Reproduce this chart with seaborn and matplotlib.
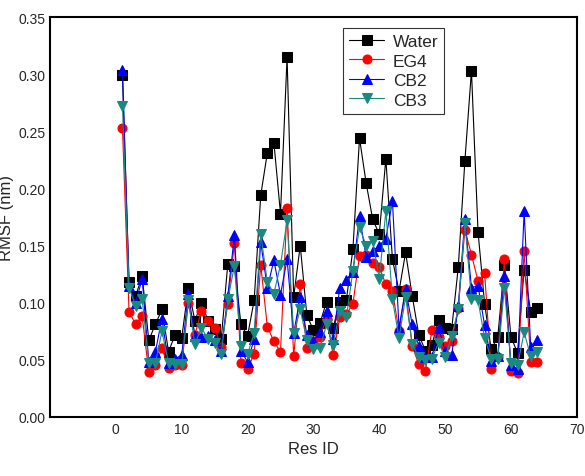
import numpy as np
import pandas as pd
import matplotlib
matplotlib.use("Agg")
import matplotlib.pyplot as plt
import seaborn as sns

res_id = list(range(1, 65))
water = [0.299, 0.118, 0.106, 0.123, 0.067, 0.081, 0.094, 0.057, 0.072, 0.069,
         0.113, 0.084, 0.100, 0.084, 0.077, 0.068, 0.134, 0.132, 0.081, 0.071,
         0.102, 0.194, 0.231, 0.240, 0.178, 0.315, 0.105, 0.150, 0.089, 0.076,
         0.082, 0.101, 0.078, 0.101, 0.102, 0.147, 0.244, 0.205, 0.173, 0.160,
         0.226, 0.138, 0.110, 0.144, 0.106, 0.072, 0.058, 0.063, 0.085, 0.078,
         0.077, 0.131, 0.224, 0.303, 0.162, 0.099, 0.059, 0.070, 0.133, 0.070,
         0.056, 0.129, 0.092, 0.095]
eg4 = [0.253, 0.092, 0.081, 0.088, 0.039, 0.045, 0.060, 0.043, 0.045, 0.045,
       0.100, 0.072, 0.093, 0.084, 0.078, 0.061, 0.099, 0.152, 0.047, 0.042,
       0.055, 0.133, 0.079, 0.066, 0.057, 0.183, 0.053, 0.116, 0.060, 0.066,
       0.070, 0.086, 0.054, 0.087, 0.090, 0.099, 0.141, 0.142, 0.135, 0.131,
       0.116, 0.110, 0.075, 0.112, 0.062, 0.046, 0.040, 0.076, 0.070, 0.062,
       0.066, 0.095, 0.164, 0.142, 0.119, 0.126, 0.042, 0.052, 0.138, 0.040,
       0.038, 0.145, 0.048, 0.048]
cb2 = [0.304, 0.115, 0.100, 0.121, 0.048, 0.057, 0.086, 0.047, 0.051, 0.054,
       0.108, 0.071, 0.070, 0.071, 0.067, 0.058, 0.106, 0.159, 0.058, 0.048,
       0.068, 0.153, 0.113, 0.137, 0.107, 0.138, 0.073, 0.105, 0.072, 0.066,
       0.074, 0.093, 0.068, 0.113, 0.120, 0.127, 0.176, 0.140, 0.145, 0.150,
       0.156, 0.189, 0.078, 0.112, 0.081, 0.062, 0.052, 0.052, 0.078, 0.058,
       0.054, 0.097, 0.173, 0.113, 0.115, 0.080, 0.049, 0.053, 0.123, 0.045,
       0.042, 0.180, 0.061, 0.067]
cb3 = [0.272, 0.113, 0.097, 0.103, 0.047, 0.047, 0.075, 0.047, 0.046, 0.046,
       0.102, 0.064, 0.078, 0.068, 0.065, 0.055, 0.103, 0.132, 0.062, 0.055,
       0.073, 0.160, 0.118, 0.108, 0.133, 0.172, 0.073, 0.094, 0.067, 0.059,
       0.060, 0.081, 0.063, 0.093, 0.087, 0.128, 0.166, 0.150, 0.154, 0.121,
       0.180, 0.103, 0.069, 0.105, 0.064, 0.052, 0.050, 0.051, 0.065, 0.052,
       0.071, 0.094, 0.170, 0.103, 0.102, 0.069, 0.051, 0.051, 0.113, 0.047,
       0.045, 0.074, 0.053, 0.057]

series_names = ["Water", "EG4", "CB2", "CB3"]
x_ticks = [0, 10, 20, 30, 40, 50, 60, 70]
y_ticks = [0.00, 0.05, 0.10, 0.15, 0.20, 0.25, 0.30, 0.35]

sns.set_style("white")
plt.rcParams['font.family'] = ['Liberation Sans', 'DejaVu Sans']

fig = plt.figure(figsize=(5.85, 4.77), dpi=100)
ax = fig.add_axes([0.0855, 0.124, 0.9005, 0.838])

styles = [
    ("black", "s", "#555555"),
    ("#ff0000", "o", "#ff6060"),
    ("#0000ff", "^", "#5050ff"),
    ("#1a8a80", "v", "#3a9a90"),
]
for name, vals, (mc, mk, lc) in zip(series_names, [water, eg4, cb2, cb3], styles):
    df = pd.DataFrame({"Res ID": res_id, "RMSF": vals})
    sns.lineplot(data=df, x="Res ID", y="RMSF", ax=ax, color=lc, linewidth=0.8,
                 marker=mk, markersize=6.5, markerfacecolor=mc, markeredgecolor=mc,
                 label=name)

ax.set_xlim(-10, 70)
ax.set_ylim(0, 0.35)
ax.set_xticks(x_ticks)
ax.set_yticks(y_ticks)
ax.set_yticklabels([f"{v:.2f}" for v in y_ticks])
ax.set_xlabel("Res ID", fontsize=12, labelpad=4)
ax.set_ylabel("RMSF (nm)", fontsize=12, labelpad=3)
ax.tick_params(direction="in", length=4, width=1, labelsize=10, top=False, right=False)
for s in ax.spines.values():
    s.set_linewidth(1.5)
    s.set_color("black")

handles, labels = ax.get_legend_handles_labels()
for h, (mc, mk, lc) in zip(handles, styles):
    h.set_color(mc)
    h.set_markerfacecolor(mc)
    h.set_markeredgecolor(mc)
leg = ax.legend(handles, labels, loc="upper left", bbox_to_anchor=(0.54, 0.995),
                fontsize=12.5, frameon=True, fancybox=False, edgecolor="black",
                handlelength=2.0, borderpad=0.35, labelspacing=0.25, handletextpad=0.5)
leg.get_frame().set_linewidth(0.8)

fig.savefig("out.png", dpi=100)
